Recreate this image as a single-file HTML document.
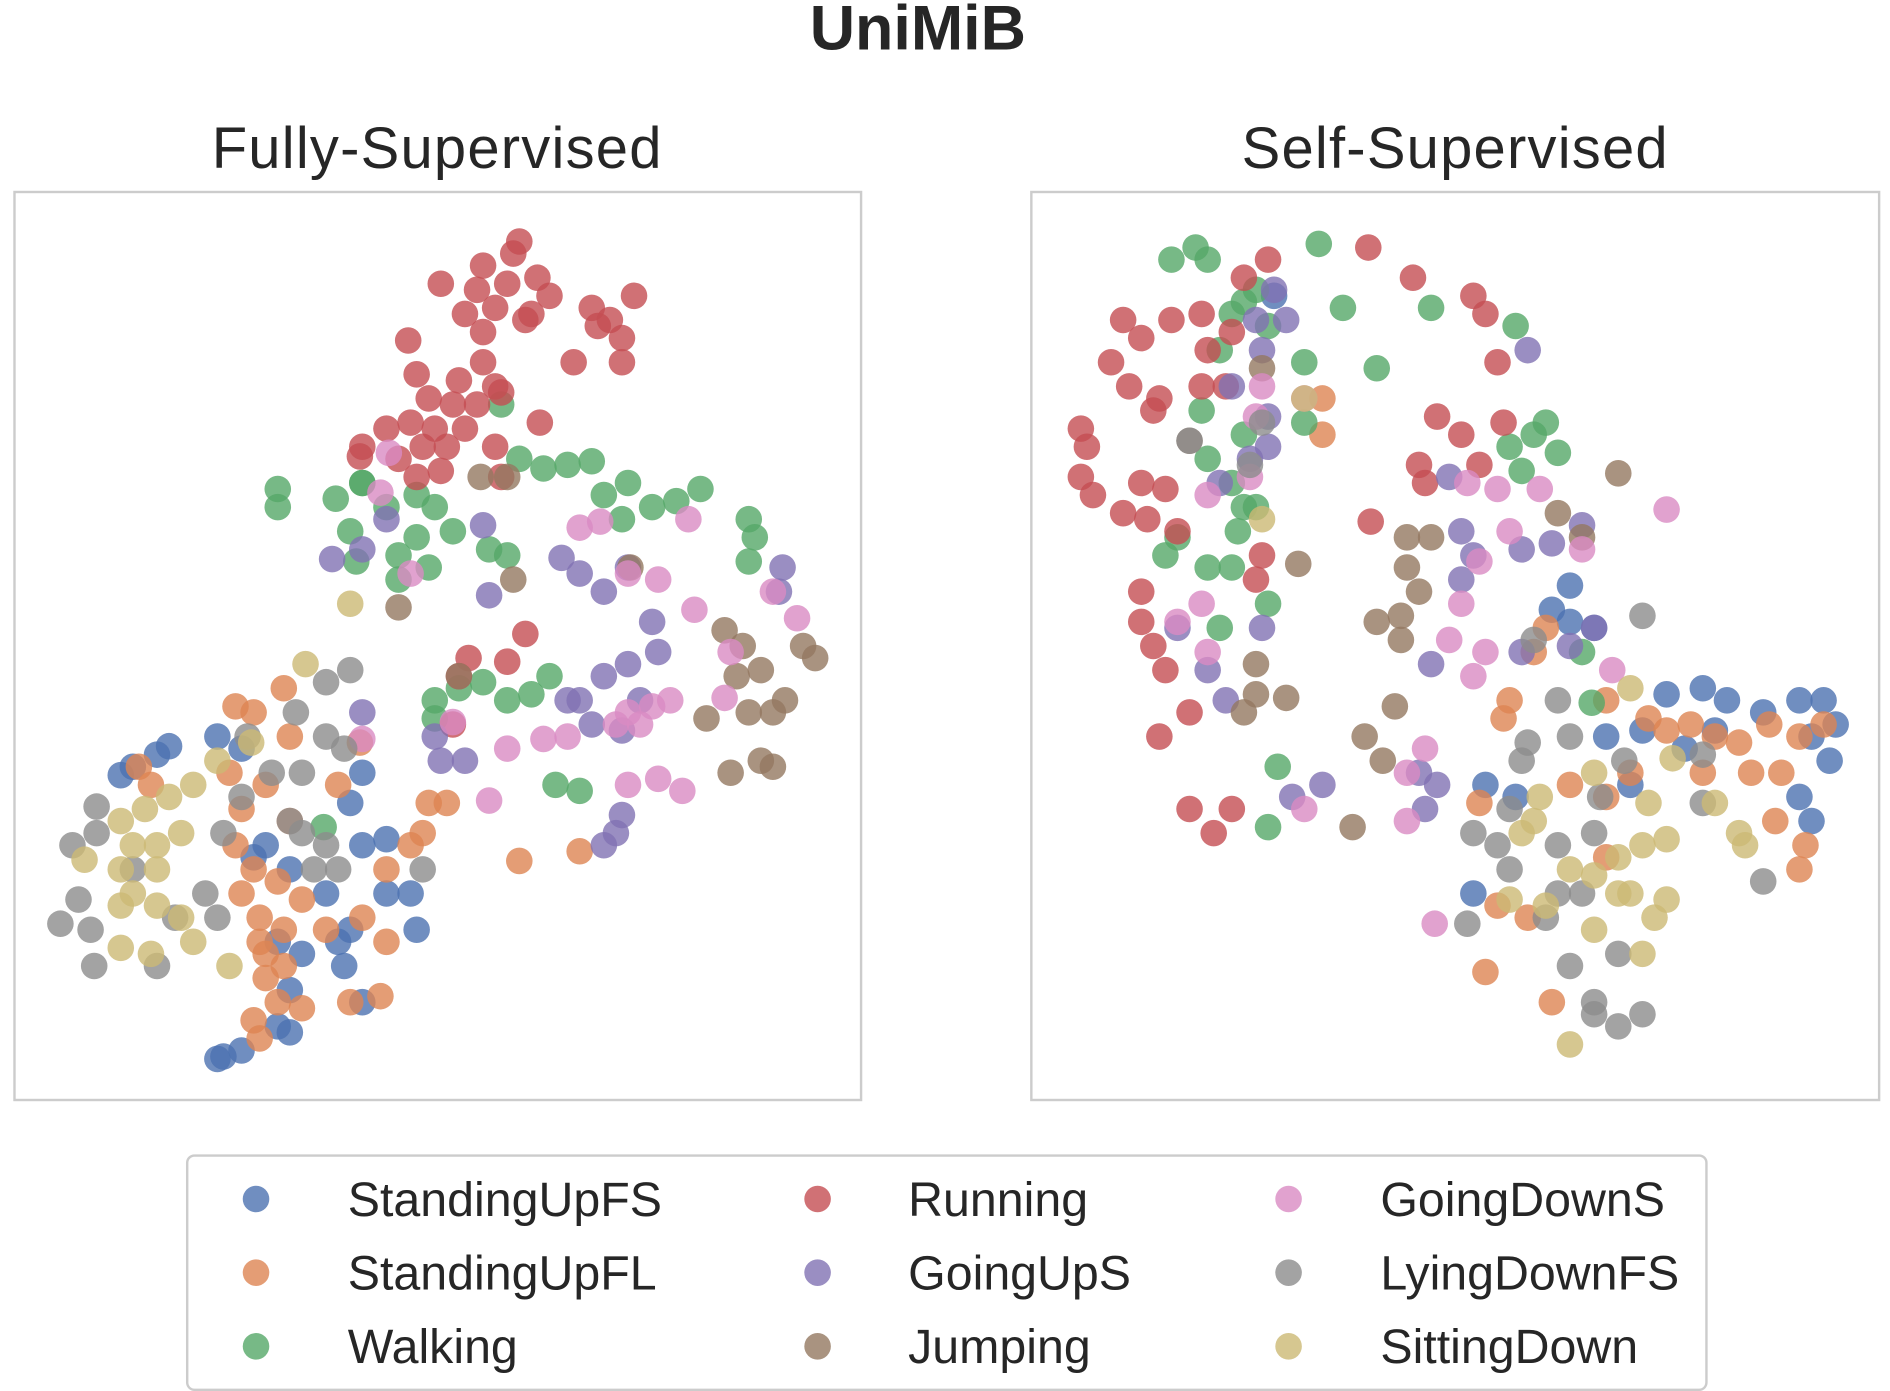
<!DOCTYPE html>
<html><head><meta charset="utf-8"><style>
html,body{margin:0;padding:0;background:#fff;}
svg{display:block;}
text{font-family:"Liberation Sans","DejaVu Sans",sans-serif;fill:#262626;}
</style></head><body>
<svg id="chart" xmlns="http://www.w3.org/2000/svg" width="1890" height="1391" viewBox="0 0 1565 1152" preserveAspectRatio="none">
<text x="760" y="41" text-anchor="middle" font-size="52" font-weight="bold">UniMiB</text>
<text x="362" y="139" text-anchor="middle" font-size="48" letter-spacing="1">Fully-Supervised</text>
<text x="1205" y="139" text-anchor="middle" font-size="48" letter-spacing="1">Self-Supervised</text>
<rect x="12" y="159" width="701" height="752" fill="none" stroke="#cccccc" stroke-width="2"/>
<rect x="854" y="159" width="702" height="752" fill="none" stroke="#cccccc" stroke-width="2"/>
<g id="p1"></g>
<g id="p2"></g>
<rect x="155" y="957" width="1258" height="194" rx="6" fill="#fff" stroke="#cccccc" stroke-width="2"/>
<g id="legend"></g>
</svg>
<script>
const classes = ["StandingUpFS","StandingUpFL","Walking","Running","GoingUpS","Jumping","GoingDownS","LyingDownFS","SittingDown"];
const colors = ["#4C72B0","#DD8452","#55A868","#C44E52","#8172B3","#937860","#DA8BC3","#8C8C8C","#CCB974"];

// Fully-supervised embedding [x, y]
const fsStandingUpFS = [[98,276],[128,293],[118,286],[168,301],[188,291],[198,201],[208,211],[228,191],[258,171],[288,211],[308,216],[308,171],[328,171],[333,141],[278,246],[288,271],[218,131],[268,131],[273,111],[288,81],[228,91],[218,61],[228,56],[173,36],[188,41],[168,34],[238,121],[278,141],[88,269]];
const fsStandingUpFL = [[183,326],[198,321],[223,341],[228,301],[103,276],[113,261],[178,271],[188,241],[208,261],[228,231],[183,211],[198,191],[218,181],[203,151],[223,141],[208,121],[208,101],[218,81],[198,66],[203,51],[238,76],[258,141],[288,151],[308,131],[303,86],[278,81],[308,191],[328,211],[343,246],[358,246],[338,221],[268,261],[286,296],[418,198],[468,206],[238,166],[188,171],[203,131],[223,111]];
const fsWalking = [[218,506],[218,491],[266,498],[278,471],[288,511],[308,491],[333,501],[348,491],[363,471],[333,466],[318,451],[283,446],[393,456],[408,451],[418,531],[438,523],[458,526],[478,529],[488,501],[508,511],[528,491],[548,496],[568,506],[503,481],[608,481],[613,466],[608,446],[318,431],[343,441],[403,576],[348,331],[368,341],[388,346],[408,331],[428,336],[443,351],[348,316],[448,261],[468,256],[256,226],[288,511]];
const fsRunning = [[418,711],[413,701],[388,691],[353,676],[383,671],[408,676],[433,681],[443,666],[423,646],[398,656],[373,651],[388,636],[428,651],[478,656],[493,646],[513,666],[503,631],[483,641],[503,611],[463,611],[326,629],[388,611],[398,591],[368,596],[333,601],[343,581],[363,576],[383,576],[403,586],[328,561],[348,556],[338,541],[358,541],[318,531],[288,541],[308,556],[373,556],[435,561],[333,516],[353,521],[398,541],[403,516],[286,533],[423,386],[408,363],[376,366],[368,351],[363,311]];
const fsGoingUpS = [[263,448],[288,456],[308,481],[388,476],[393,418],[453,449],[468,436],[488,421],[508,441],[528,396],[533,371],[508,361],[488,351],[468,331],[478,311],[503,306],[518,331],[498,221],[488,211],[503,236],[348,301],[373,281],[353,281],[636,441],[633,421],[288,321],[458,331]];
const fsJumping = [[386,516],[408,516],[413,431],[318,408],[510,441],[588,389],[603,376],[598,351],[618,356],[638,331],[628,321],[608,321],[573,316],[653,376],[663,366],[593,271],[618,281],[628,276],[368,351]];
const fsGoingDownS = [[310,536],[303,503],[468,474],[485,479],[558,481],[508,436],[533,431],[563,406],[628,421],[648,399],[593,371],[508,321],[528,326],[543,331],[498,311],[518,311],[458,301],[438,299],[408,291],[393,248],[508,261],[533,266],[553,256],[588,333],[288,299],[328,436],[363,313]];
const fsLyingDownFS = [[278,356],[258,346],[233,321],[258,301],[273,291],[238,271],[213,271],[193,301],[68,243],[68,221],[48,211],[53,166],[38,146],[63,141],[66,111],[118,111],[133,151],[168,151],[158,171],[98,191],[228,231],[238,221],[258,211],[268,191],[248,191],[338,191],[188,251],[173,221]];
const fsSittingDown = [[241,361],[196,296],[168,281],[88,231],[108,241],[128,251],[148,261],[98,211],[118,211],[138,221],[88,191],[58,199],[88,161],[118,161],[138,151],[88,126],[113,121],[148,131],[178,111],[278,411],[118,191],[98,171]];

// Self-supervised embedding [x, y]
const ssStandingUpFS = [[201,666],[446,426],[431,406],[446,396],[466,391],[556,341],[576,331],[606,321],[636,331],[656,331],[666,311],[661,281],[646,301],[526,336],[506,306],[496,261],[541,291],[566,306],[376,261],[401,251],[366,171],[636,251],[646,231],[476,301]];
const ssStandingUpFL = [[241,581],[241,551],[426,391],[416,371],[396,331],[391,316],[476,331],[511,316],[526,306],[546,311],[566,301],[586,296],[611,311],[636,301],[656,311],[621,271],[616,231],[641,211],[636,191],[496,271],[476,251],[446,261],[371,246],[386,161],[411,151],[376,106],[431,81],[476,201],[556,271],[596,271]];
const ssWalking = [[116,696],[136,706],[146,696],[238,709],[258,656],[286,606],[331,656],[401,641],[226,611],[186,671],[166,651],[196,641],[156,621],[141,571],[176,551],[146,531],[166,511],[186,491],[121,466],[111,451],[146,441],[166,441],[171,471],[156,391],[196,411],[176,491],[396,541],[416,551],[436,536],[406,521],[426,561],[456,371],[464,329],[204,276],[196,226],[226,561],[176,661]];
const ssRunning = [[76,646],[91,631],[66,611],[81,591],[101,571],[116,646],[141,651],[146,621],[166,636],[196,696],[176,681],[161,591],[141,591],[106,581],[41,556],[46,541],[41,516],[51,501],[76,486],[91,511],[111,506],[96,481],[186,431],[191,451],[91,421],[91,396],[101,376],[111,356],[131,321],[106,301],[131,241],[151,221],[166,241],[279,706],[316,681],[366,666],[376,651],[386,611],[336,566],[356,551],[391,561],[321,526],[326,511],[371,526],[281,479],[121,471]];
const ssGoingUpS = [[201,671],[186,646],[211,646],[411,621],[166,591],[196,566],[196,541],[181,531],[156,511],[346,516],[356,471],[366,451],[406,456],[431,461],[456,476],[356,431],[331,361],[406,371],[446,376],[466,391],[191,391],[121,391],[146,356],[161,331],[216,251],[241,261],[321,271],[336,261],[326,241],[191,621]];
const ssJumping = [[191,606],[131,546],[221,444],[311,466],[331,466],[311,441],[321,421],[306,401],[286,396],[306,381],[186,361],[186,336],[211,333],[176,321],[301,326],[276,301],[291,281],[266,226],[486,519],[456,466],[436,486]];
const ssGoingDownS = [[191,591],[186,566],[226,581],[146,501],[181,516],[361,511],[386,506],[421,506],[396,471],[371,446],[356,411],[376,371],[366,351],[346,381],[456,456],[481,356],[526,489],[141,411],[121,396],[146,371],[326,291],[311,271],[311,231],[226,241],[334,146]];
const ssLyingDownFS = [[191,561],[181,526],[131,546],[416,381],[436,331],[446,301],[411,296],[406,281],[471,251],[491,281],[556,286],[506,401],[556,246],[606,181],[396,241],[386,211],[366,221],[396,191],[436,211],[466,221],[456,171],[426,151],[446,111],[486,121],[466,81],[486,61],[466,71],[506,71],[361,146],[436,171]];
const ssSittingDown = [[226,581],[191,481],[496,341],[531,283],[466,271],[511,246],[421,251],[416,231],[406,221],[446,191],[466,186],[486,201],[506,211],[526,216],[496,171],[516,151],[506,121],[526,166],[396,166],[426,161],[466,141],[446,46],[586,221],[591,211],[566,246],[486,171]];

const NS = "http://www.w3.org/2000/svg";
const panelBottom = 911;
function xScale(left, v){ return left + v; }
function yScale(v){ return panelBottom - v; }

function drawPanel(gid, left, series, prefix){
  const g = document.getElementById(gid);
  series.forEach((pts, ci) => {
    pts.forEach(p => {
      const c = document.createElementNS(NS, "circle");
      c.setAttribute("cx", xScale(left, p[0]));
      c.setAttribute("cy", yScale(p[1]));
      c.setAttribute("r", 11);
      c.setAttribute("fill", colors[ci]);
      c.setAttribute("fill-opacity", 0.8);
      
      
      g.appendChild(c);
    });
  });
}
drawPanel("p1", 12, [fsStandingUpFS,fsStandingUpFL,fsWalking,fsRunning,fsGoingUpS,fsJumping,fsGoingDownS,fsLyingDownFS,fsSittingDown], "fully-supervised");
drawPanel("p2", 854, [ssStandingUpFS,ssStandingUpFL,ssWalking,ssRunning,ssGoingUpS,ssJumping,ssGoingDownS,ssLyingDownFS,ssSittingDown], "self-supervised");

const lg = document.getElementById("legend");
const colX = [212, 677, 1067];
const textX = [288, 752, 1143];
const rowY = [993, 1054, 1115];
classes.forEach((name, i) => {
  const col = Math.floor(i / 3), row = i % 3;
  const e = document.createElementNS(NS, "g");
  
  
  const c = document.createElementNS(NS, "circle");
  c.setAttribute("cx", colX[col]); c.setAttribute("cy", rowY[row]); c.setAttribute("r", 11);
  c.setAttribute("fill", colors[i]); c.setAttribute("fill-opacity", 0.8);
  
  
  const t = document.createElementNS(NS, "text");
  t.setAttribute("x", textX[col]); t.setAttribute("y", rowY[row] + 14);
  t.setAttribute("font-size", "40");
  t.textContent = name;
  
  
  e.appendChild(c); e.appendChild(t); lg.appendChild(e);
});
</script>
</body></html>
